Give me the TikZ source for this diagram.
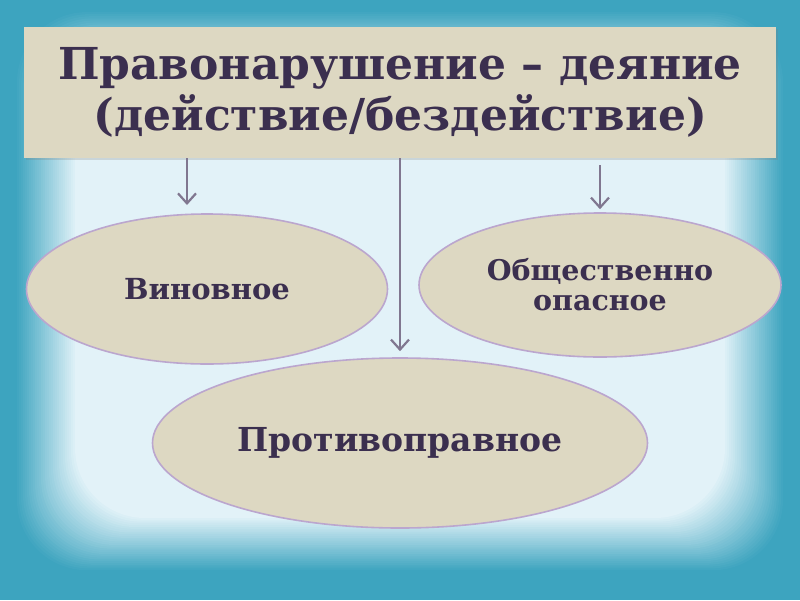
\documentclass[tikz,border=0pt]{standalone}
\usepackage{fontspec}
\setmainfont{Liberation Serif}
\newfontfamily\ellfont{DejaVu Serif}
\usetikzlibrary{shapes.geometric,arrows.meta,shadows}
\definecolor{edgeteal}{HTML}{3DA4BF}
\definecolor{lightbg}{HTML}{E2F2F8}
\definecolor{beige}{HTML}{DDD8C2}
\definecolor{txt}{HTML}{3B2F4F}
\definecolor{ellborder}{HTML}{BBA6CE}
\definecolor{arrcol}{HTML}{807790}
\tikzset{
  titlebox/.style={draw=none, fill=beige, minimum width=752pt, minimum height=131pt, inner sep=0pt,
    text=txt, align=center, font=\ellfont\fontsize{44}{51}\selectfont\bfseries,
    drop shadow={opacity=0.25, shadow xshift=2pt, shadow yshift=-2pt}},
  ellbox/.style={ellipse, draw=ellborder, line width=1.6pt, fill=beige, inner sep=0pt,
    text=txt, align=center},
  arr/.style={draw=arrcol, line width=2.2pt, -{Straight Barb[length=10pt,width=18pt,line width=2.2pt]}}
}
\begin{document}
\begin{tikzpicture}[x=1pt,y=-1pt]
\useasboundingbox (0,0) rectangle (800,600);
\fill[edgeteal] (0,0) rectangle (800,600);
\foreach \k in {1,...,30}{
  \pgfmathsetmacro\t{\k/30}
  \pgfmathtruncatemacro\p{100*\t}
  \fill[lightbg!\p!edgeteal, rounded corners=70pt]
    ({15+60*\t},{10+62*\t}) rectangle ({785-60*\t},{572-54*\t});
}
\node[titlebox] (title) at (400,92.5) {Правонарушение – деяние\\(действие/бездействие)};
\node[ellbox, minimum width=361pt, minimum height=150pt, font=\ellfont\bfseries\fontsize{29}{30}\selectfont] (vin) at (207,289) {Виновное};
\node[ellbox, minimum width=362pt, minimum height=144pt, font=\ellfont\bfseries\fontsize{28.5}{30}\selectfont] (obsh) at (600,285) {Общественно\\опасное};
\node[ellbox, minimum width=495pt, minimum height=170pt, font=\ellfont\bfseries\fontsize{33}{36}\selectfont] (prot) at (400,443) {Противоправное};
\coordinate (a1) at (187,205);
\draw[arr] (title.south -| a1) -- (a1);
\draw[arr, shorten >=6pt] (title.south) -- (prot.north);
\draw[arr, shorten <=7pt, shorten >=3pt] (title.south -| obsh.north) -- (obsh.north);
\end{tikzpicture}
\end{document}
